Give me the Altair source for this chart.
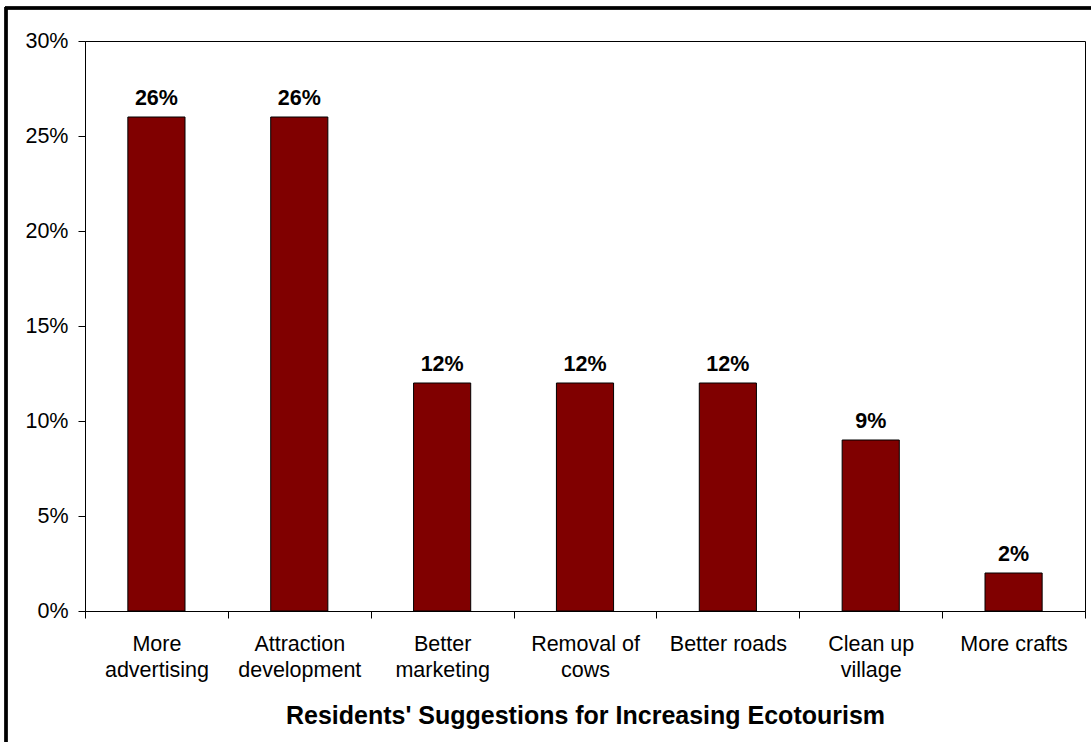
import altair as alt
import pandas as pd

categories = ["More|advertising", "Attraction|development", "Better|marketing",
              "Removal of|cows", "Better roads", "Clean up|village", "More crafts"]
values = [0.26, 0.26, 0.12, 0.12, 0.12, 0.09, 0.02]
y_ticks = [0, 0.05, 0.10, 0.15, 0.20, 0.25, 0.30]
x_title = "Residents' Suggestions for Increasing Ecotourism"

df = pd.DataFrame({"cat": categories, "val": values})
FONT = "Liberation Sans"

x_enc = alt.X("cat:N", sort=categories,
              scale=alt.Scale(paddingInner=0, paddingOuter=0),
              axis=alt.Axis(title=x_title, labelAngle=0, tickBand="extent",
                            labelExpr="split(datum.label, '|')",
                            labelLineHeight=26, labelFontSize=21.5,
                            labelFont=FONT, labelColor="black",
                            labelPadding=15, labelBaseline="top",
                            tickSize=7, tickColor="black", domainColor="black",
                            titleFont=FONT, titleFontSize=25, titleFontWeight="bold",
                            titleColor="black", titleY=112, titleBaseline="alphabetic"))
y_enc = alt.Y("val:Q", scale=alt.Scale(domain=[0, 0.3], nice=False),
              axis=alt.Axis(title=None, values=y_ticks, format=".0%", grid=False,
                            labelFontSize=21.5, labelFont=FONT, labelColor="black",
                            labelPadding=10, tickSize=7, tickColor="black",
                            domainColor="black"))

bars = alt.Chart(df).mark_bar(width=alt.RelativeBandSize(0.4), color="#800000",
                              stroke="black", strokeWidth=1).encode(x=x_enc, y=y_enc)
labels = alt.Chart(df).mark_text(font=FONT, fontSize=21.5, fontWeight="bold",
                                 baseline="alphabetic", dy=-12, color="black").encode(
    x=alt.X("cat:N", sort=categories), y="val:Q", text=alt.Text("val:Q", format=".0%"))

frame_top = alt.Chart(df).mark_rule(color="black", strokeWidth=2.5, clip=False).encode(
    x=alt.value(-80), x2=alt.value(1010), y=alt.value(-33))
frame_left = alt.Chart(df).mark_rule(color="black", strokeWidth=2.5, clip=False).encode(
    x=alt.value(-79), y=alt.value(-34), y2=alt.value(710))

chart = alt.layer(bars, labels, frame_top, frame_left).properties(
    width=1000, height=570,
    autosize=alt.AutoSizeParams(type="none"),
    padding={"left": 85, "top": 41, "right": 6, "bottom": 131},
    background="white",
).configure_view(stroke="black", strokeWidth=1)

chart.save("out.html", embed_options={"renderer": "svg", "actions": False})
